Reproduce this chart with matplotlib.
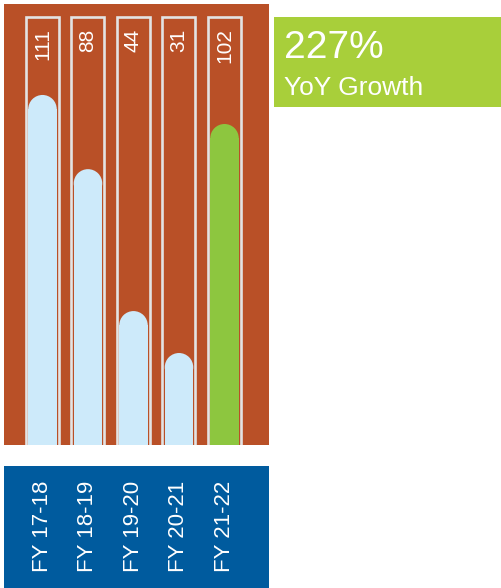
import matplotlib
matplotlib.use("Agg")
import matplotlib.pyplot as plt
from matplotlib.patches import Rectangle, Ellipse
from matplotlib.transforms import blended_transform_factory
import numpy as np

# data
years = ["FY 17-18", "FY 18-19", "FY 19-20", "FY 20-21", "FY 21-22"]
values = [111, 88, 44, 31, 102]
bar_colors = ["#cdeafa", "#cdeafa", "#cdeafa", "#cdeafa", "#8dc63f"]
growth_pct = "227%"
growth_label = "YoY Growth"

plt.rcParams['font.family'] = ['Liberation Sans', 'DejaVu Sans']

ORANGE = "#b95027"
BLUE = "#005b9e"
GREEN_BOX = "#a8cf3a"
OUTLINE = "#e3e3e3"

W, H = 502, 588
fig = plt.figure(figsize=(W / 100, H / 100), dpi=100)

# main bar panel (pixel box: x 4..269, y 4..445)
ax = fig.add_axes([4 / W, (H - 445) / H, 265 / W, 441 / H])
ax.set_facecolor(ORANGE)
for s in ax.spines.values():
    s.set_visible(False)
ax.set_xticks([])
ax.set_yticks([])

x = np.arange(len(values))
ax.set_xlim(-0.846, 4.978)
ax.set_ylim(2.48, 139.2)

px_y = 441 / (139.2 - 2.48)      # pixels per data unit in y
px_x = 265 / (4.978 + 0.846)     # pixels per data unit in x
fill_w = 28.5 / px_x
ry = (28.5 / 2) / px_y
box_top = 135.2

# outlines
for xi in x:
    ax.add_patch(Rectangle((xi - 33 / px_x / 2, 0), 33 / px_x, box_top,
                           facecolor="none", edgecolor=OUTLINE, lw=1.9, zorder=3))

# bars with rounded caps
vals = np.array(values, dtype=float)
ax.bar(x, vals - ry, width=fill_w, color=bar_colors, zorder=2)
for xi, v, c in zip(x, vals, bar_colors):
    ax.add_patch(Ellipse((xi, v - ry), fill_w, 2 * ry, facecolor=c,
                         edgecolor="none", zorder=2))

# value labels
for xi, v in zip(x, values):
    ax.text(xi, 131.6, str(v), rotation=90, ha="center", va="top",
            color="white", fontsize=15, zorder=4)

# category panel
ax2 = fig.add_axes([4 / W, 0, 265 / W, (H - 466) / H])
ax2.set_facecolor(BLUE)
for s in ax2.spines.values():
    s.set_visible(False)
ax2.set_xticks([])
ax2.set_yticks([])
ax2.set_xlim(-0.846, 4.978)
ax2.set_ylim(0, 1)
tr = blended_transform_factory(ax2.transData, ax2.transAxes)
for xi, lab in zip(x, years):
    ax2.text(xi, 16 / 122, lab, rotation=90, ha="center", va="bottom",
             color="white", fontsize=16, transform=tr)

# growth box
ax3 = fig.add_axes([274 / W, (H - 107) / H, 228 / W, 90 / H])
ax3.set_facecolor(GREEN_BOX)
for s in ax3.spines.values():
    s.set_visible(False)
ax3.set_xticks([])
ax3.set_yticks([])
ax3.text(10 / 228, (107 - 58) / 90, growth_pct, color="white", fontsize=28,
         ha="left", va="baseline", transform=ax3.transAxes)
ax3.text(10 / 228, (107 - 95) / 90, growth_label, color="white", fontsize=19,
         ha="left", va="baseline", transform=ax3.transAxes)

fig.savefig("out.png", dpi=100)
